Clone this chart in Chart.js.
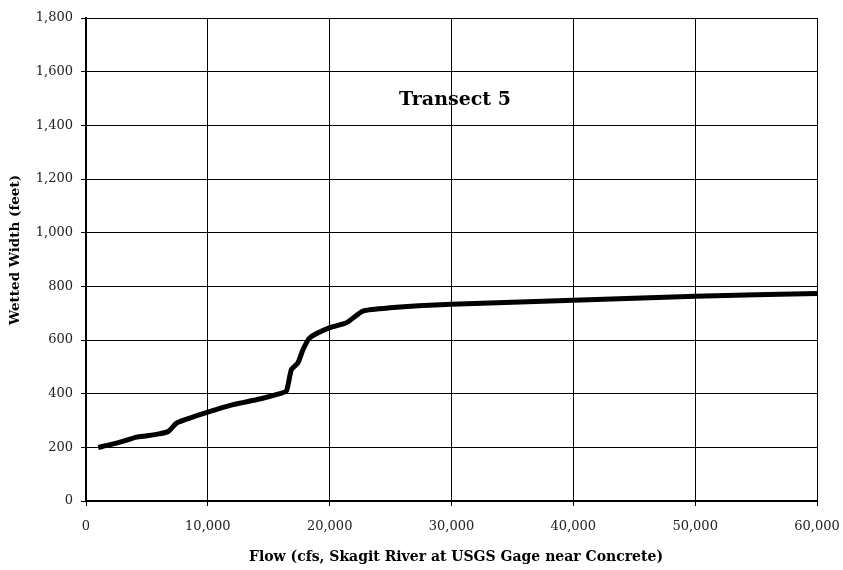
<!DOCTYPE html>
<html>
<head>
<meta charset="utf-8">
<script src="https://cdn.jsdelivr.net/npm/chart.js@4"></script>
<style>
  html, body { margin: 0; padding: 0; background: #fff; }
  #wrap { width: 843px; height: 570px; }
</style>
</head>
<body>
<div id="wrap"><canvas id="widthChart" width="843" height="570"></canvas></div>
<script>
const flowCfs = [1000, 2000, 3000, 4150, 5000, 6000, 6750, 7430, 8520, 10000, 12070, 14260, 15900, 16450, 16860, 17400, 17810, 18360, 20000, 21370, 22730, 24920, 30000, 40000, 50000, 60000];
const wettedWidth = [200, 210, 222, 238, 243, 250, 259, 290, 309, 331, 359, 380, 400, 410, 490, 515, 564, 608, 646, 664, 708, 720, 733, 748, 763, 773];
const xTicks = [0, 10000, 20000, 30000, 40000, 50000, 60000];
const yTicks = [0, 200, 400, 600, 800, 1000, 1200, 1400, 1600, 1800];
const chartLabel = "Transect 5";
const xTitle = "Flow (cfs, Skagit River at USGS Gage near Concrete)";
const yTitle = "Wetted Width (feet)";

const serif = "'DejaVu Serif', 'Liberation Serif', serif";

const points = flowCfs.map((x, i) => ({ x: x, y: wettedWidth[i] }));

// label in the plot plus both axis titles
const textPlugin = {
  id: "chartText",
  afterDraw(chart) {
    const ctx = chart.ctx;
    ctx.save();
    ctx.fillStyle = "#000";
    ctx.textAlign = "center";
    ctx.textBaseline = "middle";
    ctx.font = "bold 19px " + serif;
    ctx.fillText(chartLabel, 455, 100);
    ctx.font = "bold 14px " + serif;
    ctx.fillText(xTitle, 456, 557);
    ctx.font = "bold 13.5px " + serif;
    ctx.translate(15, 250);
    ctx.rotate(-Math.PI / 2);
    ctx.fillText(yTitle, 0, 0);
    ctx.restore();
  }
};

new Chart(document.getElementById("widthChart"), {
  type: "scatter",
  data: {
    datasets: [{
      data: points,
      showLine: true,
      borderColor: "#000",
      borderWidth: 5,
      pointRadius: 0,
      tension: 0.2,
      fill: false
    }]
  },
  options: {
    responsive: false,
    animation: false,
    layout: { padding: { top: 18, right: 26, left: 0, bottom: 0 } },
    plugins: { legend: { display: false }, tooltip: { enabled: false } },
    scales: {
      x: {
        type: "linear",
        min: 0,
        max: 60000,
        afterBuildTicks(scale) { scale.ticks = xTicks.map(v => ({ value: v })); },
        afterFit(scale) {
          scale.height = 69;
          scale.paddingLeft = 0;
          scale.paddingRight = 0;
        },
        grid: { color: "#000", lineWidth: 1, tickLength: 5, tickColor: "#000" },
        border: { color: "#000", width: 2 },
        ticks: {
          color: "#222",
          font: { family: serif, size: 13 },
          padding: 13,
          maxRotation: 0,
          callback: v => v.toLocaleString("en-US")
        }
      },
      y: {
        min: 0,
        max: 1800,
        afterBuildTicks(scale) { scale.ticks = yTicks.map(v => ({ value: v })); },
        afterFit(scale) {
          scale.width = 86;
          scale.paddingTop = 0;
          scale.paddingBottom = 0;
        },
        grid: { color: "#000", lineWidth: 1, tickLength: 5, tickColor: "#000" },
        border: { color: "#000", width: 2 },
        ticks: {
          color: "#222",
          font: { family: serif, size: 13 },
          padding: 8,
          callback: v => v.toLocaleString("en-US")
        }
      }
    }
  },
  plugins: [textPlugin]
});
</script>
</body>
</html>
